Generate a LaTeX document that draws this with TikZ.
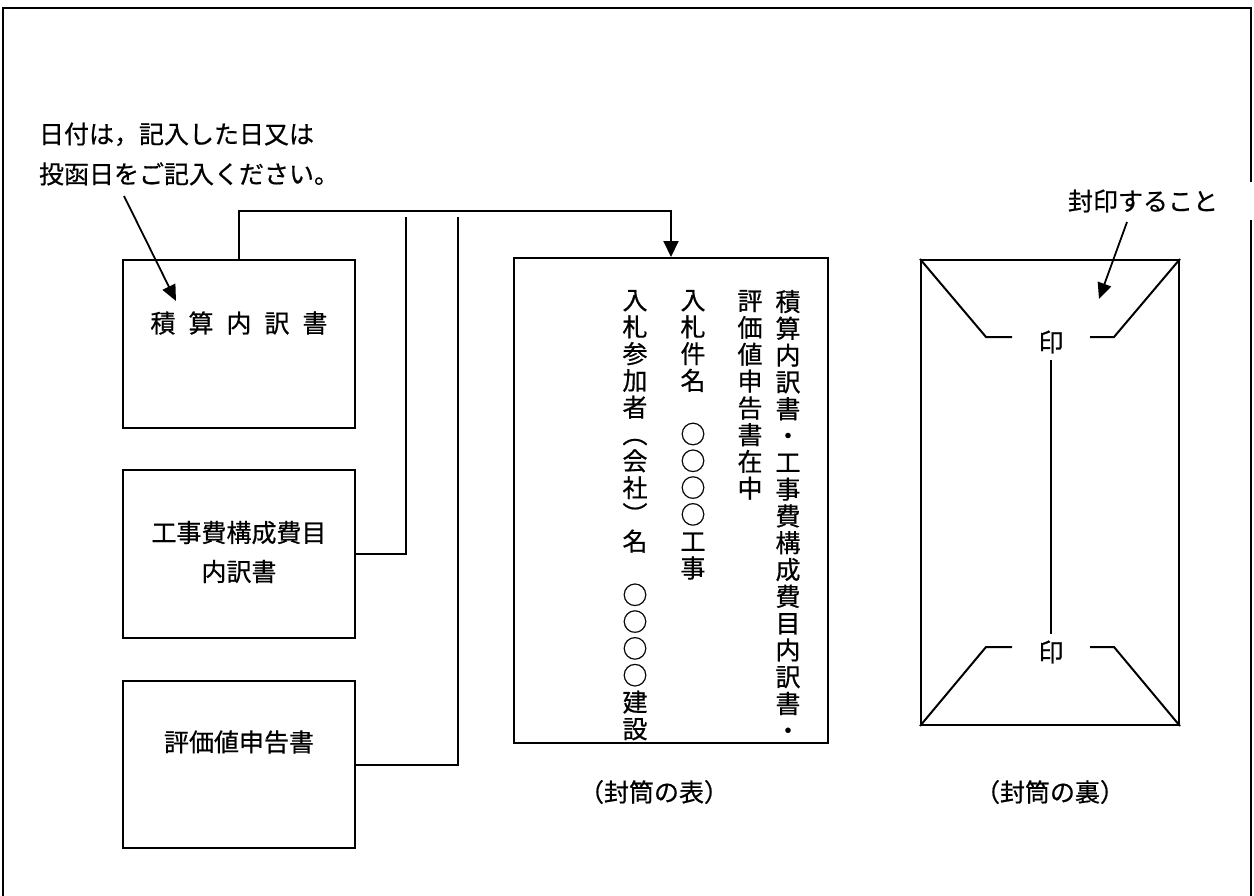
\documentclass[tikz,border=0pt]{standalone}
\usepackage{fontspec}
\setmainfont[FakeBold=0.6]{Noto Sans CJK JP}
\usetikzlibrary{positioning,arrows.meta}

\begin{document}
\begin{tikzpicture}[
    x=1pt, y=-1pt,
    line width=2pt,
    box/.style={draw, line width=2pt, inner sep=0pt},
    lbl/.style={inner sep=0pt, font=\fontsize{25}{39}\selectfont},
    tate/.style={inner sep=0pt, anchor=north, align=center, font=\fontsize{25}{26.8}\selectfont},
    pointer/.style={line width=1.8pt, -{Triangle[length=16pt,width=14pt]}}
  ]
  \useasboundingbox (0,0) rectangle (1254,895);
  \clip (0,0) rectangle (1254,895);
  % outer frame, its bottom edge runs off the page
  \draw[line width=2.5pt] (3,910) -- (3,8) -- (1251,8) -- (1251,910);

  % note on the date
  \node[lbl, anchor=west, align=left, font=\fontsize{25}{40}\selectfont] (note) at (38,154)
    {日付は，記入した日又は\\投函日をご記入ください。};
  \coordinate (noteStart) at (124,196);
  \coordinate (noteEnd) at (176,301);

  % documents
  \node[box, minimum width=232pt, minimum height=168pt] (sekisan) at (239,344) {};
  \node[box, minimum width=232pt, minimum height=168pt] (kouji) at (239,554) {};
  \node[box, minimum width=232pt, minimum height=167pt] (hyouka) at (239,764.5) {};
  \node[lbl] (sekisanText) at (239,323)
    {積\hspace{13pt}算\hspace{13pt}内\hspace{13pt}訳\hspace{13pt}書};
  \node[lbl, align=center] (koujiText) at (239,552) {工事費構成費目\\内訳書};
  \node[lbl] (hyoukaText) at (239,742) {評価値申告書};

  % front of the envelope
  \node[box, minimum width=314pt, minimum height=485pt] (omote) at (671,500.5) {};
  \node[tate] (col1) at (788,289)
    {積\\算\\内\\訳\\書\\・\\工\\事\\費\\構\\成\\費\\目\\内\\訳\\書\\・};
  \node[tate] (col2) at (750,289) {評\\価\\値\\申\\告\\書\\在\\中};
  \node[tate] (col3) at (693,289) {入\\札\\件\\名\\　\\○\\○\\○\\○\\工\\事};
  \node[tate] (col4) at (635,289)
    {入\\札\\参\\加\\者\\︵\\会\\社\\︶\\名\\　\\○\\○\\○\\○\\建\\設};
  \node[lbl] (omoteLabel) at (654,792) {（封筒の表）};

  % connectors to the envelope
  \coordinate (bus) at (239,211);
  \coordinate (koujiTop) at (406,217);
  \coordinate (hyoukaTop) at (458,217);
  \draw[-{Triangle[length=16pt,width=15pt]}] (sekisan.north) -- (bus) -| (omote.north);
  \draw (kouji.east) -| (koujiTop);
  \draw (hyouka.east) -| (hyoukaTop);
  \draw[pointer] (noteStart) -- (noteEnd);

  % back of the envelope
  \node[box, minimum width=258pt, minimum height=465pt] (ura) at (1050,492.5) {};
  \node[lbl] (inTop) at (1051,342) {印};
  \node[lbl] (inBottom) at (1051,652) {印};
  \draw (ura.north west) -- (986,337) -- (1012,337);
  \draw (1090,337) -- (1114,337) -- (ura.north east);
  \draw (ura.south west) -- (986,647) -- (1012,647);
  \draw (1090,647) -- (1114,647) -- (ura.south east);
  \draw ([yshift=-6pt]inTop.south) -- ([yshift=6pt]inBottom.north);
  \node[lbl] (uraLabel) at (1050,792) {（封筒の裏）};

  % seal note, its white box breaks the frame
  \node[fill=white, anchor=west, text width=185pt, align=left, inner xsep=5pt,
        minimum height=38pt, font=\fontsize{25}{30}\selectfont] (seal) at (1062,201) {封印すること};
  \coordinate (sealStart) at (1127,222);
  \coordinate (sealEnd) at (1099,299);
  \draw[pointer] (sealStart) -- (sealEnd);
\end{tikzpicture}
\end{document}
